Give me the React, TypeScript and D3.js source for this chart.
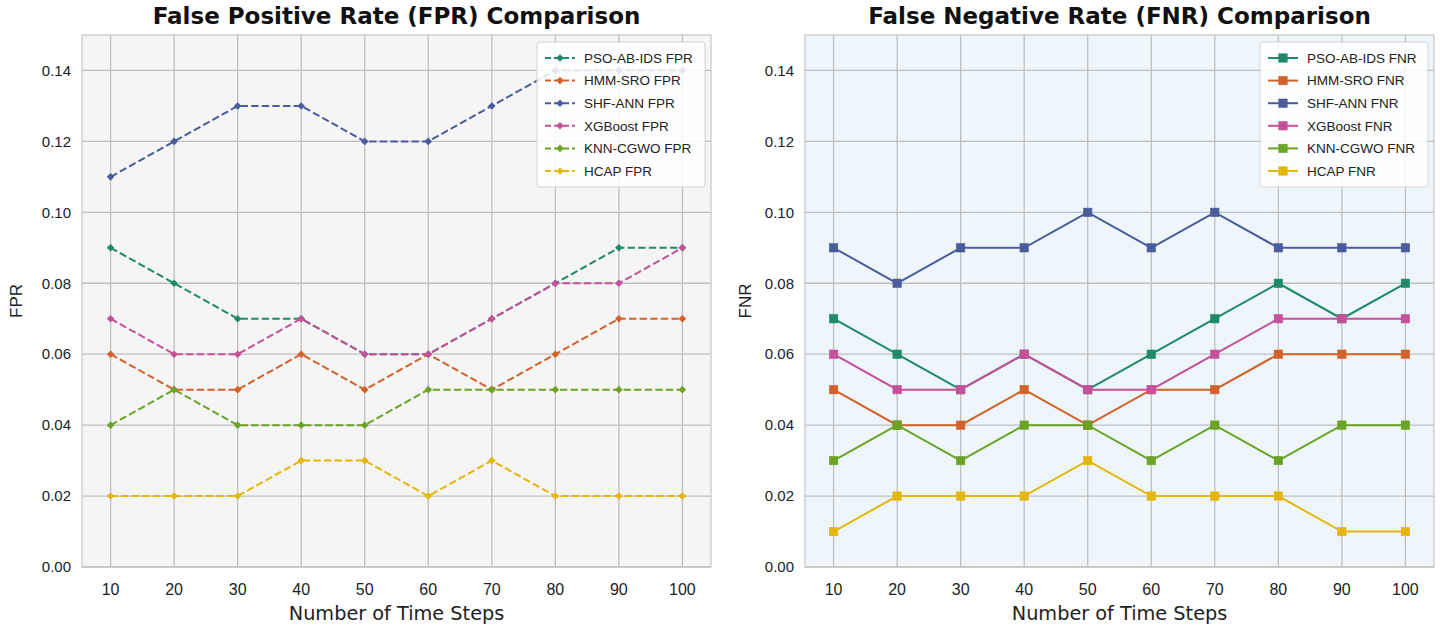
import React from "react";
import * as d3 from "d3";

const timeSteps = [10, 20, 30, 40, 50, 60, 70, 80, 90, 100];
const yTicks = [0, 0.02, 0.04, 0.06, 0.08, 0.1, 0.12, 0.14];

const models = ["PSO-AB-IDS", "HMM-SRO", "SHF-ANN", "XGBoost", "KNN-CGWO", "HCAP"];
const colors = ["#1f8a6a", "#d2612a", "#4a5c9b", "#c7509b", "#6aa325", "#e5b60d"];

const fprPso = [0.09, 0.08, 0.07, 0.07, 0.06, 0.06, 0.07, 0.08, 0.09, 0.09];
const fprHmm = [0.06, 0.05, 0.05, 0.06, 0.05, 0.06, 0.05, 0.06, 0.07, 0.07];
const fprShf = [0.11, 0.12, 0.13, 0.13, 0.12, 0.12, 0.13, 0.14, 0.14, 0.14];
const fprXgb = [0.07, 0.06, 0.06, 0.07, 0.06, 0.06, 0.07, 0.08, 0.08, 0.09];
const fprKnn = [0.04, 0.05, 0.04, 0.04, 0.04, 0.05, 0.05, 0.05, 0.05, 0.05];
const fprHcap = [0.02, 0.02, 0.02, 0.03, 0.03, 0.02, 0.03, 0.02, 0.02, 0.02];

const fnrPso = [0.07, 0.06, 0.05, 0.06, 0.05, 0.06, 0.07, 0.08, 0.07, 0.08];
const fnrHmm = [0.05, 0.04, 0.04, 0.05, 0.04, 0.05, 0.05, 0.06, 0.06, 0.06];
const fnrShf = [0.09, 0.08, 0.09, 0.09, 0.1, 0.09, 0.1, 0.09, 0.09, 0.09];
const fnrXgb = [0.06, 0.05, 0.05, 0.06, 0.05, 0.05, 0.06, 0.07, 0.07, 0.07];
const fnrKnn = [0.03, 0.04, 0.03, 0.04, 0.04, 0.03, 0.04, 0.03, 0.04, 0.04];
const fnrHcap = [0.01, 0.02, 0.02, 0.02, 0.03, 0.02, 0.02, 0.02, 0.01, 0.01];

const fprSeries = [fprPso, fprHmm, fprShf, fprXgb, fprKnn, fprHcap];
const fnrSeries = [fnrPso, fnrHmm, fnrShf, fnrXgb, fnrKnn, fnrHcap];

const TICK_FONT = "'Liberation Sans', Arial, sans-serif";
const LABEL_FONT = "'DejaVu Sans', sans-serif";
const DASH = "7.4,3.2";

type PanelProps = {
  left: number;
  right: number;
  top: number;
  bottom: number;
  title: string;
  yLabel: string;
  yLabelX: number;
  series: number[][];
  suffix: string;
  bg: string;
  dashed: boolean;
};

function Marker({ x, y, color, square }: { x: number; y: number; color: string; square: boolean }) {
  if (square) {
    return <rect x={x - 4.2} y={y - 4.2} width={8.4} height={8.4} fill={color} stroke={color} strokeWidth={0.6} />;
  }
  const r = 3.8;
  return <path d={`M${x},${y - r} L${x + r},${y} L${x},${y + r} L${x - r},${y} Z`} fill={color} />;
}

function Panel(p: PanelProps) {
  const x = d3
    .scaleLinear()
    .domain([10 - 4.5, 100 + 4.5])
    .range([p.left, p.right]);
  const y = d3.scaleLinear().domain([0, 0.15]).range([p.bottom, p.top]);
  const line = d3
    .line<number>()
    .x((_, i) => x(timeSteps[i]))
    .y((v) => y(v));
  const cx = (p.left + p.right) / 2;
  const rowH = 22.6;
  const legW = 168;
  const legX = p.right - 6 - legW;
  const legTop = p.top + 7;
  const legH = 145;

  return (
    <g>
      <rect x={p.left} y={p.top} width={p.right - p.left} height={p.bottom - p.top} fill={p.bg} />
      {timeSteps.map((t) => (
        <line key={"gx" + t} x1={x(t)} x2={x(t)} y1={p.top} y2={p.bottom} stroke="#bfbfbf" strokeWidth={1.3} />
      ))}
      {yTicks.map((t) => (
        <line key={"gy" + t} x1={p.left} x2={p.right} y1={y(t)} y2={y(t)} stroke="#bfbfbf" strokeWidth={1.3} />
      ))}
      <rect
        x={p.left}
        y={p.top}
        width={p.right - p.left}
        height={p.bottom - p.top}
        fill="none"
        stroke="#c6c6c6"
        strokeWidth={1.2}
      />
      {p.series.map((vals, si) => (
        <g key={"s" + si}>
          <path
            d={line(vals) || ""}
            fill="none"
            stroke={colors[si]}
            strokeWidth={2}
            strokeDasharray={p.dashed ? DASH : undefined}
          />
          {vals.map((v, i) => (
            <Marker key={i} x={x(timeSteps[i])} y={y(v)} color={colors[si]} square={!p.dashed} />
          ))}
        </g>
      ))}
      {/* legend */}
      <g>
        <rect
          x={legX}
          y={legTop}
          width={legW}
          height={legH}
          rx={3}
          fill="white"
          fillOpacity={0.85}
          stroke="#d4d4d4"
          strokeWidth={1}
        />
        {models.map((m, i) => {
          const ly = legTop + 16 + i * rowH;
          const hx0 = legX + 8;
          const hx1 = hx0 + 30;
          return (
            <g key={"l" + m}>
              <line
                x1={hx0}
                x2={hx1}
                y1={ly}
                y2={ly}
                stroke={colors[i]}
                strokeWidth={2}
                strokeDasharray={p.dashed ? "6,3" : undefined}
              />
              <Marker x={(hx0 + hx1) / 2} y={ly} color={colors[i]} square={!p.dashed} />
              <text x={hx1 + 9} y={ly} dy="0.35em" fontSize={13.5} fontFamily={TICK_FONT} fill="#222">
                {`${m} ${p.suffix}`}
              </text>
            </g>
          );
        })}
      </g>
      {/* axes text */}
      {yTicks.map((t) => (
        <text
          key={"ty" + t}
          x={p.left - 11}
          y={y(t)}
          dy="0.35em"
          textAnchor="end"
          fontSize={15}
          fontFamily={TICK_FONT}
          fill="#222"
        >
          {t.toFixed(2)}
        </text>
      ))}
      {timeSteps.map((t) => (
        <text
          key={"tx" + t}
          x={x(t)}
          y={p.bottom + 28}
          textAnchor="middle"
          fontSize={16}
          fontFamily={TICK_FONT}
          fill="#222"
        >
          {t}
        </text>
      ))}
      <text x={cx} y={p.bottom + 53} textAnchor="middle" fontSize={19.3} fontFamily={LABEL_FONT} fill="#222">
        Number of Time Steps
      </text>
      <text
        transform={`translate(${p.yLabelX},${(p.top + p.bottom) / 2}) rotate(-90)`}
        textAnchor="middle"
        dy="0.35em"
        fontSize={17}
        fontFamily={TICK_FONT}
        fill="#222"
      >
        {p.yLabel}
      </text>
      <text
        x={cx}
        y={p.top - 11}
        textAnchor="middle"
        fontSize={23}
        fontWeight="bold"
        fontFamily={LABEL_FONT}
        fill="#111"
      >
        {p.title}
      </text>
    </g>
  );
}

export default function App() {
  return (
    <svg width={1440} height={633} style={{ position: "absolute", left: 0, top: 0, background: "white" }}>
      <Panel
        left={82}
        right={711}
        top={35}
        bottom={567}
        title="False Positive Rate (FPR) Comparison"
        yLabel="FPR"
        yLabelX={16}
        series={fprSeries}
        suffix="FPR"
        bg="#f5f5f5"
        dashed={true}
      />
      <Panel
        left={805}
        right={1434}
        top={35}
        bottom={567}
        title="False Negative Rate (FNR) Comparison"
        yLabel="FNR"
        yLabelX={745}
        series={fnrSeries}
        suffix="FNR"
        bg="#eef6fb"
        dashed={false}
      />
    </svg>
  );
}
